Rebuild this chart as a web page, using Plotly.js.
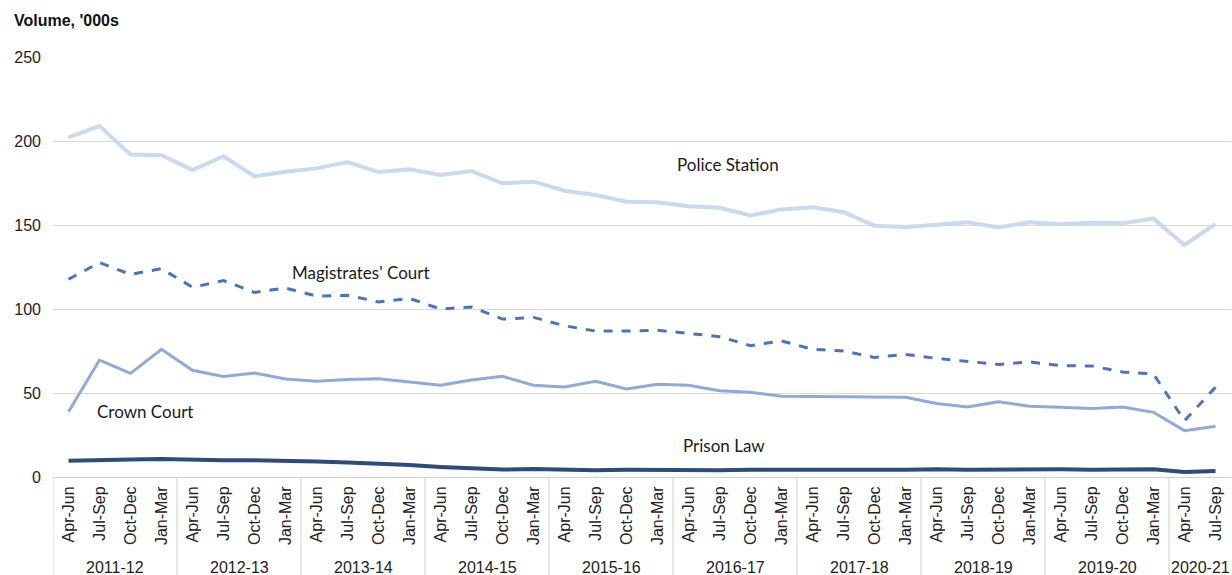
<!DOCTYPE html>
<html>
<head>
<meta charset="utf-8">
<script src="https://cdn.plot.ly/plotly-3.0.1.min.js"></script>
<style>html,body{margin:0;padding:0;background:#fff;}#chart{width:1232px;height:575px;}</style>
</head>
<body>
<div id="chart"></div>
<script>
const years = ["2011-12","2012-13","2013-14","2014-15","2015-16","2016-17","2017-18","2018-19","2019-20","2020-21"];
const quarters = ["Apr-Jun","Jul-Sep","Oct-Dec","Jan-Mar"];
const quartersInLastYear = 2;

const policeStation = [202.2,208.9,191.9,191.5,182.7,190.9,179.0,181.7,183.7,187.5,181.5,183.1,179.8,182.1,174.8,175.8,170.4,167.9,163.9,163.5,161.1,160.3,155.7,159.3,160.5,157.7,149.6,148.8,150.2,151.6,148.6,151.6,150.4,151.4,151.0,153.8,138.1,150.6];
const magistratesCourt = [117.7,127.6,120.6,124.0,112.9,116.9,109.9,112.5,107.7,108.2,104.2,106.3,100.0,101.2,94.0,95.0,90.0,86.9,86.9,87.3,85.5,83.5,78.2,81.0,76.0,75.0,71.2,73.0,70.6,68.8,67.0,68.5,66.3,66.1,62.5,61.3,33.5,53.4];
const crownCourt = [38.9,69.6,61.7,76.0,63.5,59.9,61.9,58.3,57.0,58.1,58.5,56.5,54.6,57.7,59.9,54.6,53.6,57.0,52.4,55.2,54.6,51.4,50.4,48.0,47.8,47.8,47.2,47.4,43.8,41.7,44.8,42.1,41.5,40.7,41.7,38.5,27.6,30.2];
const prisonLaw = [9.7,10.3,10.4,10.7,10.2,9.9,9.9,9.8,9.3,8.6,8.1,7.2,6.0,5.2,4.4,4.7,4.4,4.0,4.3,4.0,4.3,4.0,4.3,4.4,4.6,4.3,4.3,4.3,4.6,4.3,4.5,4.6,4.6,4.3,4.6,4.6,3.0,3.6];

const seriesNames = ["Police Station","Magistrates' Court","Crown Court","Prison Law"];

// build the quarter sequence and year groups
const xQuarter = [], groups = [];
years.forEach((y, i) => {
  const n = (i === years.length - 1) ? quartersInLastYear : quarters.length;
  groups.push({year: y, start: xQuarter.length, count: n});
  for (let q = 0; q < n; q++) xQuarter.push(quarters[q]);
});
const nPts = xQuarter.length;
const xIdx = xQuarter.map((_, i) => i);

const traces = [
  {x: xIdx, y: policeStation, name: seriesNames[0], type: "scatter", mode: "lines", line: {color: "#cad9ee", width: 4}},
  {x: xIdx, y: magistratesCourt, name: seriesNames[1], type: "scatter", mode: "lines", line: {color: "#4a74b8", width: 3, dash: "dash"}},
  {x: xIdx, y: crownCourt, name: seriesNames[2], type: "scatter", mode: "lines", line: {color: "#8eaadb", width: 3}},
  {x: xIdx, y: prisonLaw, name: seriesNames[3], type: "scatter", mode: "lines", line: {color: "#2f4b7c", width: 4}}
];

const axisFont = {family: "'Liberation Sans', Arial, sans-serif", size: 16, color: "#222"};
const annFont = {family: "Lato, 'Open Sans', sans-serif", size: 17, color: "#1a1a1a"};
const divBottom = -98 / 420;

const shapes = groups.map(g => ({
  type: "line", xref: "x", yref: "paper",
  x0: g.start - 0.5, x1: g.start - 0.5, y0: 0, y1: divBottom,
  line: {color: "#d0d0d0", width: 1}
}));

const annotations = [
  {xref: "paper", yref: "paper", x: -0.035, y: 1.088, xanchor: "left", yanchor: "middle", text: "<b>Volume, '000s</b>", showarrow: false, font: {family: "'Liberation Sans', Arial, sans-serif", size: 16, color: "#111"}},
  {xref: "x", yref: "y", x: 21.29, y: 186.3, text: seriesNames[0], showarrow: false, font: annFont, xanchor: "center", yanchor: "middle"},
  {xref: "x", yref: "y", x: 9.44, y: 122, text: seriesNames[1], showarrow: false, font: annFont, xanchor: "center", yanchor: "middle"},
  {xref: "x", yref: "y", x: 2.48, y: 38.7, text: seriesNames[2], showarrow: false, font: annFont, xanchor: "center", yanchor: "middle"},
  {xref: "x", yref: "y", x: 21.16, y: 19, text: seriesNames[3], showarrow: false, font: annFont, xanchor: "center", yanchor: "middle"}
].concat(groups.map(g => ({
  xref: "x", yref: "paper", x: g.start + (g.count - 1) / 2, y: -90 / 420,
  text: g.year, showarrow: false, font: axisFont, xanchor: "center", yanchor: "middle"
})));

const layout = {
  width: 1232, height: 575,
  margin: {l: 53, r: 1, t: 57, b: 98},
  paper_bgcolor: "#fff", plot_bgcolor: "#fff",
  showlegend: false,
  font: axisFont,
  xaxis: {
    type: "linear",
    range: [-0.5, nPts - 0.5],
    tickmode: "array", tickvals: xIdx, ticktext: xQuarter,
    tickangle: -90,
    showgrid: false, zeroline: false,
    showline: true, linecolor: "#d0d0d0", linewidth: 1,
    ticks: "",
    ticklabelstandoff: 2,
    tickfont: axisFont
  },
  yaxis: {
    range: [0, 250], tickvals: [0,50,100,150,200,250],
    showgrid: true, gridcolor: "#d9d9d9", gridwidth: 1,
    zeroline: false, showline: false, ticks: "",
    ticklabelstandoff: 11,
    tickfont: axisFont
  },
  shapes, annotations
};

Plotly.newPlot("chart", traces, layout, {staticPlot: true, displayModeBar: false});
</script>
</body>
</html>
